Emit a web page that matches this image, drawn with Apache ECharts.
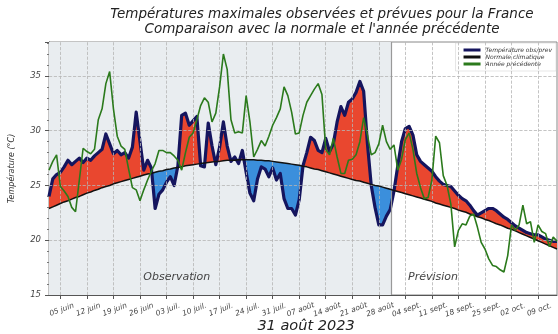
<!DOCTYPE html>
<html><head><meta charset="utf-8">
<script src="https://cdn.jsdelivr.net/npm/echarts@6/dist/echarts.min.js"></script>
<style>html,body{margin:0;padding:0;background:#fff}#c{width:558px;height:334px}</style>
</head><body><div id="c"></div>
<script>
// Day 0 = 1 June 2023; series start on day 1 (2 June)
const firstDay = 1;
const obsEndDay = 91.4; // end of observation period (31 Aug)

const tickDates = ['2023-06-05','2023-06-12','2023-06-19','2023-06-26','2023-07-03','2023-07-10','2023-07-17','2023-07-24','2023-07-31','2023-08-07','2023-08-14','2023-08-21','2023-08-28','2023-09-04','2023-09-11','2023-09-18','2023-09-25','2023-10-02','2023-10-09'];
const tickLabels = ['05 juin','12 juin','19 juin','26 juin','03 juil.','10 juil.','17 juil.','24 juil.','31 juil.','07 août','14 août','21 août','28 août','04 sept.','11 sept.','18 sept.','25 sept.','02 oct.','09 oct.'];

const obsTemp = [24.0,25.6,26.0,26.2,26.7,27.3,26.9,27.2,27.5,27.1,
 27.5,27.3,27.7,28.0,28.3,29.7,28.8,27.9,28.2,27.8,
 28.0,27.5,28.5,31.7,29.0,26.4,27.3,26.6,22.9,24.2,
 24.6,25.3,25.8,25.0,26.8,31.4,31.6,30.5,30.9,31.3,
 26.8,26.7,30.7,28.6,26.9,28.5,30.8,28.6,27.2,27.6,
 27.0,28.2,26.2,24.3,23.6,25.6,26.7,26.5,25.8,26.6,
 25.5,26.1,23.8,22.9,22.9,22.3,23.7,26.8,28.0,29.4,
 29.1,28.2,28.0,29.3,28.1,28.8,30.8,32.2,31.4,32.6,
 32.9,33.5,34.5,33.6,28.8,25.0,23.0,21.4,21.4,22.2,
 22.8,24.5,26.8,29.0,30.2,30.4,29.6,27.8,27.2,26.9,
 26.6,26.3,25.8,25.4,25.1,25.0,24.9,24.5,24.1,23.8,
 23.6,23.2,22.7,22.3,22.5,22.7,22.9,22.9,22.7,22.4,
 22.1,21.9,21.6,21.3,21.1,20.9,20.7,20.6,20.5,20.5,
 20.3,20.1,20.0,19.9,19.9];

const normalTemp = [22.9,23.05,23.2,23.35,23.5,23.6,23.75,23.9,24.0,24.15,
 24.3,24.4,24.55,24.65,24.8,24.9,25.0,25.15,25.25,25.35,
 25.45,25.55,25.65,25.75,25.85,25.95,26.05,26.1,26.2,26.3,
 26.35,26.45,26.5,26.6,26.65,26.7,26.8,26.85,26.9,26.95,
 27.0,27.05,27.1,27.15,27.2,27.2,27.25,27.3,27.3,27.3,
 27.35,27.35,27.35,27.35,27.35,27.3,27.3,27.25,27.25,27.2,
 27.15,27.1,27.05,27.0,26.95,26.9,26.85,26.75,26.7,26.6,
 26.5,26.45,26.35,26.25,26.15,26.05,25.95,25.85,25.75,25.65,
 25.55,25.45,25.4,25.3,25.2,25.1,25.0,24.95,24.85,24.75,
 24.65,24.55,24.45,24.35,24.25,24.15,24.05,23.95,23.85,23.75,
 23.65,23.55,23.4,23.3,23.2,23.1,23.0,22.9,22.75,22.65,
 22.55,22.4,22.3,22.15,22.05,21.9,21.8,21.65,21.5,21.4,
 21.25,21.1,21.0,20.85,20.7,20.55,20.4,20.25,20.1,19.95,
 19.8,19.65,19.5,19.35,19.2];

const prevYearTemp = [26.4,27.2,27.8,24.9,24.5,24.0,23.0,22.6,25.5,28.4,
 28.1,27.9,28.3,31.0,32.0,34.3,35.4,32.0,29.5,28.6,
 28.3,26.5,24.8,24.6,23.6,24.6,25.5,26.3,27.0,28.2,
 28.2,28.0,28.0,27.7,27.3,26.4,28.0,29.4,29.8,31.0,
 32.3,33.0,32.6,30.8,31.6,34.0,37.0,35.6,31.0,29.8,
 29.9,29.8,33.2,30.8,27.6,28.3,29.1,28.6,29.5,30.5,
 31.2,32.0,34.0,33.2,31.7,29.7,29.8,31.4,32.6,33.2,
 33.8,34.3,33.3,28.3,27.8,29.3,27.6,26.1,26.1,27.3,
 27.4,27.8,29.0,31.2,29.6,27.8,28.0,28.8,30.5,29.0,
 28.3,28.7,26.4,27.4,29.2,29.8,28.3,26.1,24.8,23.8,
 23.9,25.5,29.5,28.9,25.9,25.0,23.3,19.4,20.9,21.5,
 21.4,22.2,22.4,21.2,19.8,19.2,18.3,17.7,17.6,17.3,
 17.1,18.6,21.4,20.9,21.4,23.2,21.5,21.7,19.8,21.4,
 20.8,20.6,19.4,20.3,19.9];

const FONT = 'DejaVu Sans';
const RED = '#e9472f', BLUE = '#3b8fdc';
const day0 = Date.UTC(2023, 5, 1);
const tickDays = tickDates.map(s => { const p = s.split('-').map(Number); return (Date.UTC(p[0], p[1]-1, p[2]) - day0) / 864e5; });
const dayOf = i => firstDay + i;

const obsData = obsTemp.map((v, i) => [dayOf(i), v]);
const normData = normalTemp.map((v, i) => [dayOf(i), v]);
const prevData = prevYearTemp.map((v, i) => [dayOf(i), v]);

// Build contiguous above/below runs between observed and normal (in data units)
const runs = [];
(function () {
  let sign = obsTemp[0] - normalTemp[0] >= 0 ? 1 : -1;
  let top = [[dayOf(0), obsTemp[0]]], bot = [[dayOf(0), normalTemp[0]]];
  for (let i = 0; i < obsTemp.length - 1; i++) {
    const d0 = obsTemp[i] - normalTemp[i], d1 = obsTemp[i+1] - normalTemp[i+1];
    const s1 = d1 > 0 ? 1 : (d1 < 0 ? -1 : sign);
    if (s1 !== sign && d0 !== 0) {
      const t = d0 / (d0 - d1);
      const xc = dayOf(i) + t, yc = normalTemp[i] + t * (normalTemp[i+1] - normalTemp[i]);
      top.push([xc, yc]);
      runs.push({pos: sign > 0, pts: top.concat(bot.slice().reverse())});
      top = [[xc, yc]]; bot = [[xc, yc]]; sign = s1;
    }
    top.push([dayOf(i+1), obsTemp[i+1]]); bot.push([dayOf(i+1), normalTemp[i+1]]);
  }
  runs.push({pos: sign > 0, pts: top.concat(bot.slice().reverse())});
})();
const runData = runs.map((r, k) => [r.pts[0][0], r.pts[r.pts.length - 1][0], k]);

function renderFill(params, api) {
  const r = runs[api.value(2)];
  return {type: 'polygon', shape: {points: r.pts.map(p => api.coord(p))},
    style: {fill: r.pos ? RED : BLUE}};
}

const gridLines = tickDays.map(d => ({xAxis: d})).concat([20, 25, 30, 35].map(v => ({yAxis: v})));

const chart = echarts.init(document.getElementById('c'), null, {renderer: 'canvas'});
chart.setOption({
  animation: false,
  backgroundColor: '#fff',
  textStyle: {fontFamily: FONT},
  graphic: [
    {type: 'text', x: 322, y: 14, z: 10, style: {text: 'Températures maximales observées et prévues pour la France', font: 'italic 13.5px "DejaVu Sans"', fill: '#222', textAlign: 'center', textVerticalAlign: 'middle'}},
    {type: 'text', x: 322, y: 29, z: 10, style: {text: "Comparaison avec la normale et l'année précédente", font: 'italic 13.5px "DejaVu Sans"', fill: '#222', textAlign: 'center', textVerticalAlign: 'middle'}},
    {type: 'text', x: 306, y: 326, z: 10, style: {text: '31 août 2023', font: 'italic 14.5px "DejaVu Sans"', fill: '#222', textAlign: 'center', textVerticalAlign: 'middle'}}
  ],
  legend: {
    data: ['Température obs/prev', 'Normale climatique', 'Année précédente'],
    orient: 'vertical', right: 2, top: 43,
    backgroundColor: '#fff', borderColor: '#ccc', borderWidth: 0.5,
    padding: [4, 4, 4, 8], itemWidth: 17, itemHeight: 3, itemGap: 1, icon: 'rect',
    textStyle: {fontSize: 6, fontStyle: 'italic', color: '#333', fontFamily: FONT, lineHeight: 6}
  },
  grid: {left: 49, right: 1, top: 42, bottom: 39, show: true, backgroundColor: '#fff', borderColor: '#888', borderWidth: 1},
  xAxis: {
    type: 'value', min: 1, max: 135,
    axisLine: {show: true, lineStyle: {color: '#555'}},
    splitLine: {show: false},
    axisTick: {show: true, customValues: tickDays, length: 4, lineStyle: {color: '#555'}},
    axisLabel: {customValues: tickDays, rotate: 20, align: 'center', verticalAlign: 'top', margin: 11,
      fontSize: 7.5, fontStyle: 'italic', color: '#444', fontFamily: FONT,
      formatter: v => { const k = tickDays.indexOf(Math.round(v)); return k >= 0 ? tickLabels[k] : ''; }}
  },
  yAxis: {
    type: 'value', min: 15, max: 38.1, interval: 5,
    name: 'Température (°C)', nameLocation: 'middle', nameGap: 33,
    nameTextStyle: {fontSize: 8, fontStyle: 'italic', color: '#333', fontFamily: FONT},
    axisLine: {show: true, lineStyle: {color: '#555'}},
    axisTick: {show: true, length: 4, lineStyle: {color: '#555'}},
    minorTick: {show: true, splitNumber: 5, length: 2, lineStyle: {color: '#777'}},
    splitLine: {show: false},
    axisLabel: {fontSize: 8.5, fontStyle: 'italic', color: '#444', fontFamily: FONT, margin: 8,
      formatter: v => (Math.abs(v % 5) < 1e-6 ? String(v) : '')}
  },
  series: [
    {type: 'line', data: [], z: 1, silent: true,
      markArea: {silent: true, itemStyle: {color: '#e9edf0'}, data: [[{xAxis: firstDay}, {xAxis: obsEndDay}]]}},
    {type: 'line', data: [], z: 2, silent: true,
      markLine: {silent: true, symbol: ['none', 'none'], label: {show: false},
        lineStyle: {type: 'dashed', color: '#b5b5b5', width: 0.8}, data: gridLines}},
    {type: 'line', data: [], z: 2, silent: true,
      markLine: {silent: true, symbol: ['none', 'none'], label: {show: false},
        lineStyle: {type: 'solid', color: '#999', width: 1.2}, data: [{xAxis: obsEndDay}]}},
    {type: 'custom', data: runData, z: 3, silent: true, renderItem: renderFill,
      encode: {x: [0, 1]}},
    {name: 'Température obs/prev', type: 'line', data: obsData, z: 4, showSymbol: false,
      lineStyle: {color: '#15155e', width: 3.2, join: 'round'}, itemStyle: {color: '#15155e'},
      markPoint: {symbol: 'circle', symbolSize: 0, silent: true,
        label: {show: true, position: 'inside', formatter: '{b}', fontSize: 11, fontStyle: 'italic', color: '#444', fontFamily: FONT},
        data: [{name: 'Observation', coord: [34.7, 16.6]}, {name: 'Prévision', coord: [102.3, 16.6]}]}},
    {name: 'Normale climatique', type: 'line', data: normData, z: 5, showSymbol: false,
      lineStyle: {color: '#111', width: 1.5}, itemStyle: {color: '#111'}},
    {name: 'Année précédente', type: 'line', data: prevData, z: 6, showSymbol: false,
      lineStyle: {color: '#2b7a1c', width: 1.6}, itemStyle: {color: '#2b7a1c'}}
  ]
});
</script></body></html>
